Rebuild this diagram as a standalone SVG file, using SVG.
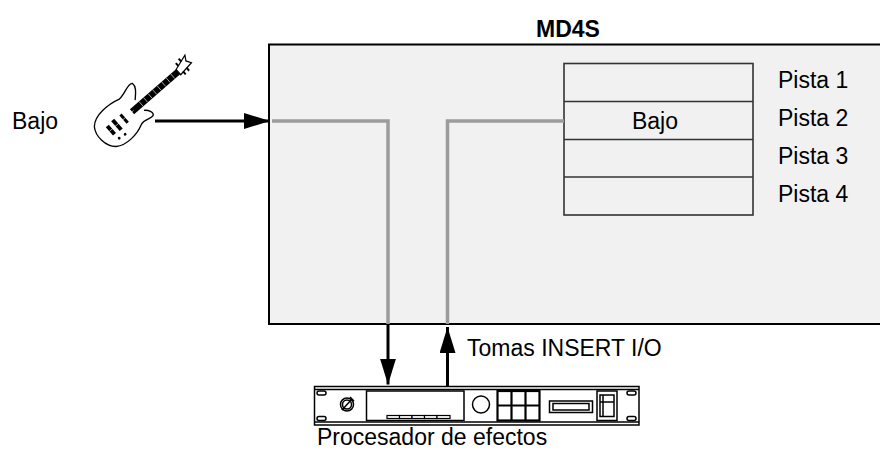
<svg xmlns="http://www.w3.org/2000/svg" width="880" height="457" viewBox="0 0 880 457">
  <defs>
    <marker id="ah" viewBox="0 0 26 16" refX="26" refY="8" markerWidth="26" markerHeight="16" markerUnits="userSpaceOnUse" orient="auto">
      <path d="M0,0 L26,8 L0,16 Z" fill="#000"/>
    </marker>
  </defs>
  <style>
    text { font-family: "Liberation Sans", Arial, sans-serif; font-size: 23px; fill: #000; }
    .title { font-weight: bold; font-size: 23px; }
    .box { fill: #f1f1f1; stroke: #000; stroke-width: 2; }
    .row { fill: none; stroke: #333; stroke-width: 1.6; }
    .signal { fill: none; stroke: #9c9c9c; stroke-width: 3.5; }
    .arrow { fill: none; stroke: #000; stroke-width: 3; marker-end: url(#ah); }
    .ln { fill: none; stroke: #000; stroke-width: 1.5; }
    .thick { fill: none; stroke: #000; stroke-width: 2.2; }
  </style>

  <rect width="880" height="457" fill="#fff"/>

  <!-- recorder unit -->
  <g id="md4s">
    <rect class="box" x="269" y="44.5" width="625" height="279.5"/>
    <text class="title" x="568" y="37" text-anchor="middle">MD4S</text>
  </g>

  <!-- track list -->
  <g id="tracks">
    <rect class="row" x="564" y="63.5" width="189" height="151.5"/>
    <line class="row" x1="564" y1="101.5" x2="753" y2="101.5"/>
    <line class="row" x1="564" y1="139.5" x2="753" y2="139.5"/>
    <line class="row" x1="564" y1="177" x2="753" y2="177"/>
    <text x="655" y="128.5" text-anchor="middle">Bajo</text>
    <text x="778" y="88">Pista 1</text>
    <text x="778" y="126">Pista 2</text>
    <text x="778" y="163.5">Pista 3</text>
    <text x="778" y="201.5">Pista 4</text>
  </g>

  <!-- bass guitar source -->
  <g id="bass">
    <text x="12" y="129">Bajo</text>
    <g transform="translate(126,117) rotate(-41)">
      <!-- body -->
      <path transform="scale(1.12)" d="M16,-6 C20,-10 25,-14 24,-19 C21,-22 13,-16 6,-16 C-4,-19 -20,-20 -27,-12 C-32,-5 -31,8 -24,14 C-16,20 -2,18 6,14 C11,12 15,16 19,15 C22,13 19,8 16,6" fill="#fff" stroke="#000" stroke-width="1.2"/>
      <!-- neck -->
      <rect x="8" y="-3.2" width="61" height="6.4" fill="#000"/>
      <g stroke="#fff" stroke-width="0.6">
        <line x1="20" y1="-3" x2="20" y2="3"/><line x1="26" y1="-3" x2="26" y2="3"/>
        <line x1="32" y1="-3" x2="32" y2="3"/><line x1="38" y1="-3" x2="38" y2="3"/>
        <line x1="44" y1="-3" x2="44" y2="3"/><line x1="50" y1="-3" x2="50" y2="3"/>
        <line x1="56" y1="-3" x2="56" y2="3"/><line x1="62" y1="-3" x2="62" y2="3"/>
      </g>
      <!-- headstock -->
      <path d="M69,-3 L85,-8 L82,-3 L85,2 L69,4 Z" fill="#fff" stroke="#000" stroke-width="1.2"/>
      <g fill="#000">
        <rect x="72" y="-8" width="2" height="4"/><rect x="77" y="-9.5" width="2" height="4"/>
        <rect x="72" y="3" width="2" height="4"/><rect x="77" y="2.5" width="2" height="4"/>
      </g>
      <!-- pickups, bridge, knobs -->
      <rect x="-4" y="-5.5" width="3" height="11" fill="#000"/>
      <rect x="-14" y="-6.5" width="4" height="13" fill="#000"/>
      <rect x="-22" y="-5.5" width="4" height="11" fill="#000"/>
      <line x1="-22" y1="0" x2="10" y2="0" stroke="#fff" stroke-width="0.6"/>
      <circle cx="-12" cy="12.5" r="1.4" fill="#000"/>
      <circle cx="-19" cy="11.5" r="1.4" fill="#000"/>
    </g>
  </g>

  <!-- effects processor -->
  <g id="effects">
    <rect class="ln" x="314.5" y="386.5" width="324.5" height="38.5"/>
    <line class="ln" x1="314.5" y1="389.5" x2="639" y2="389.5"/>
    <line class="ln" x1="314.5" y1="422" x2="639" y2="422"/>
    <!-- rack ears -->
    <rect class="ln" x="317" y="391" width="9" height="4" rx="2" stroke-width="1"/>
    <rect class="ln" x="317" y="416.5" width="9" height="4" rx="2" stroke-width="1"/>
    <rect class="ln" x="627" y="391" width="9" height="4" rx="2" stroke-width="1"/>
    <rect class="ln" x="627" y="416.5" width="9" height="4" rx="2" stroke-width="1"/>
    <!-- knob -->
    <circle class="ln" cx="347" cy="404.5" r="6.5"/>
    <circle class="ln" cx="347" cy="404.5" r="4.5" stroke-width="1"/>
    <line class="ln" x1="342" y1="410" x2="352" y2="399" stroke-width="1.3"/>
    <line class="ln" x1="350" y1="397" x2="354" y2="401" stroke-width="1.3"/>
    <!-- display -->
    <rect class="ln" x="366.5" y="391" width="97.5" height="29.5"/>
    <g fill="#fff" stroke="#000" stroke-width="1.2">
      <rect x="387" y="415.5" width="12.5" height="3"/>
      <rect x="399.5" y="415.5" width="12.5" height="3"/>
      <rect x="412" y="415.5" width="12.5" height="3"/>
      <rect x="424.5" y="415.5" width="12.5" height="3"/>
      <rect x="437" y="415.5" width="13" height="3"/>
    </g>
    <!-- dial -->
    <circle class="ln" cx="481" cy="404.5" r="8.5"/>
    <!-- keypad -->
    <rect class="thick" x="497.5" y="391" width="42" height="29.5"/>
    <line class="thick" x1="511.5" y1="391" x2="511.5" y2="420.5"/>
    <line class="thick" x1="525.5" y1="391" x2="525.5" y2="420.5"/>
    <line class="thick" x1="497.5" y1="405.5" x2="539.5" y2="405.5"/>
    <!-- slot -->
    <rect class="ln" x="549.5" y="401" width="43" height="11.5"/>
    <rect class="ln" x="553" y="403.5" width="36" height="6.5" stroke-width="1.2"/>
    <!-- switch -->
    <rect class="ln" x="597" y="391" width="20" height="29.5"/>
    <rect class="ln" x="600" y="395" width="14" height="21.5" stroke-width="1.2"/>
    <line class="ln" x1="600" y1="402" x2="614" y2="402" stroke-width="1"/>
    <line class="ln" x1="603" y1="395" x2="603" y2="416.5" stroke-width="1"/>
    <text x="317" y="445">Procesador de efectos</text>
  </g>

  <!-- connectors -->
  <g id="connectors">
    <polyline class="signal" points="272,121 388,121 388,324"/>
    <polyline class="signal" points="447.5,324 447.5,121 564,121"/>
    <line class="arrow" x1="155" y1="121" x2="270" y2="121"/>
    <line class="arrow" x1="388" y1="325" x2="388" y2="384.5"/>
    <line class="arrow" x1="447.5" y1="386.5" x2="447.5" y2="327"/>
    <text x="467" y="356">Tomas INSERT I/O</text>
  </g>
</svg>
